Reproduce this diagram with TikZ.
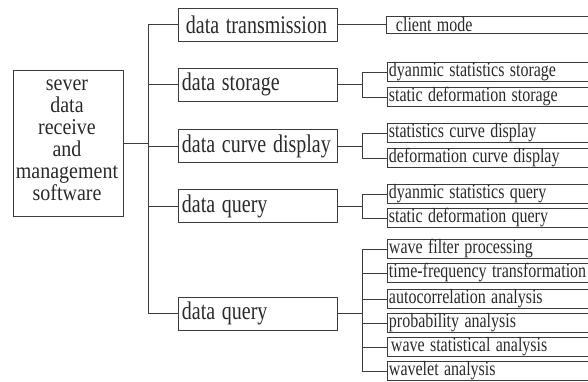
\documentclass[tikz,border=0pt]{standalone}
\usepackage{fontspec}
\usepackage{graphicx}
\setmainfont{Liberation Serif}
\definecolor{ln}{HTML}{3C3C3C}
\definecolor{tx}{HTML}{2A2A2A}
\newcommand{\vstr}[1]{\scalebox{1}[1.27]{#1}}
\newcommand{\vstrm}[1]{\scalebox{1}[1.13]{#1}}
\begin{document}
\begin{tikzpicture}[x=1pt,y=-1pt,
  line/.style={draw=ln,line width=0.9pt},
  mainbox/.style={line,minimum width=110pt,minimum height=146pt,inner sep=0pt},
  box2/.style={line,anchor=west,minimum width=159pt,minimum height=33pt,inner sep=0pt,
    text width=152pt,align=left,text=tx,font=\fontsize{20}{22}\selectfont},
  box3/.style={line,anchor=west,minimum width=205pt,minimum height=17pt,inner sep=0pt,
    text width=202pt,align=left,text=tx,font=\fontsize{16}{17}\selectfont},
  conn/.style={line}]
\useasboundingbox (0,0) rectangle (588,381);
\node[mainbox] (main) at (68,143) {};
\node[align=center,text=tx,font=\fontsize{20}{22}\selectfont,inner sep=0pt] (maintext) at (67,140)
  {\vstrm{sever}\\\vstrm{data}\\\vstrm{receive}\\\vstrm{and}\\\vstrm{management}\\\vstrm{software}};
% level 2
\node[box2] (t) at (178,24.5) {\hspace*{4pt}\vstr{data transmission}};
\node[box2] (s) at (178,84.5) {\vstr{data storage}};
\node[box2] (c) at (178,146) {\vstr{data curve display}};
\node[box2] (q1) at (178,206) {\vstr{data query}};
\node[box2] (q2) at (178,313.5) {\vstr{data query}};
% level 3
\node[box3] (cm) at (386,24.5) {\hspace*{8pt}\vstr{client mode}};
\node[box3] (s1) at (387,72) {\vstr{dyanmic statistics storage}};
\node[box3] (s2) at (387,97) {\vstr{static deformation storage}};
\node[box3] (c1) at (387,133) {\vstr{statistics curve display}};
\node[box3] (c2) at (387,158) {\vstr{deformation curve display}};
\node[box3] (d1) at (387,194) {\vstr{dyanmic statistics query}};
\node[box3] (d2) at (387,218) {\vstr{static deformation query}};
\node[box3] (w1) at (387,249) {\vstr{wave filter processing}};
\node[box3] (w2) at (387,273) {\vstr{time-frequency transformation}};
\node[box3] (w3) at (387,299) {\vstr{autocorrelation analysis}};
\node[box3] (w4) at (387,323) {\vstr{probability analysis}};
\node[box3] (w5) at (387,347) {\hspace*{2pt}\vstr{wave statistical analysis}};
\node[box3] (w6) at (387,371) {\vstr{wavelet analysis}};
% bus
\coordinate (bx) at (148,0);
\draw[conn] (main.east) -- (bx |- main.east);
\draw[conn] (bx |- t.west) -- (bx |- q2.west);
\foreach \n in {t,s,c,q1,q2} \draw[conn] (bx |- \n.west) -- (\n.west);
\draw[conn] (t.east) -- (cm.west);
\coordinate (sx) at (362,0);
\foreach \p/\a/\b in {s/s1/s2,c/c1/c2,q1/d1/d2,q2/w1/w6}{
  \draw[conn] (\p.east) -- (sx |- \p.east);
  \draw[conn] (sx |- \a.west) -- (sx |- \b.west);
}
\foreach \n in {s1,s2,c1,c2,d1,d2,w1,w2,w3,w4,w5,w6} \draw[conn] (sx |- \n.west) -- (\n.west);
\end{tikzpicture}
\end{document}
